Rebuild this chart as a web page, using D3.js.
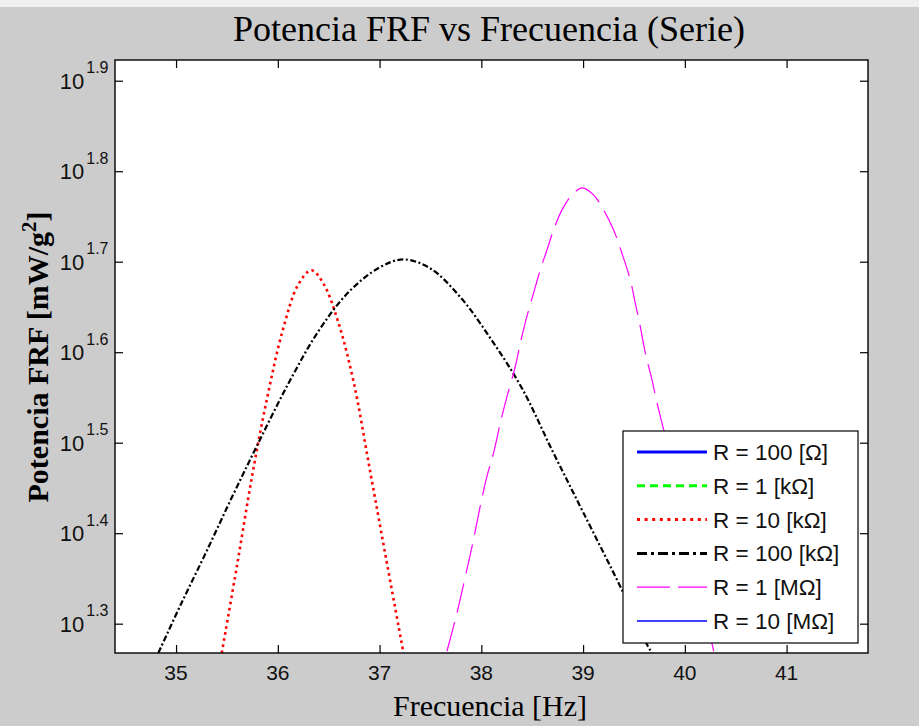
<!DOCTYPE html>
<html>
<head>
<meta charset="utf-8">
<script src="https://cdn.jsdelivr.net/npm/d3@7"></script>
<style>
  html, body { margin: 0; padding: 0; background: #cccccc; }
  svg { display: block; }
</style>
</head>
<body>
<svg id="chart" width="919" height="726"></svg>
<script>
// ---- Data: FRF power (mW/g^2) vs frequency (Hz) for each load resistance ----
const freq100Ohm = [];
const pot100Ohm = [];
const freq1k = [];
const pot1k = [];

const freq10k = [35.449, 35.600, 35.750, 35.900, 36.050, 36.200, 36.330, 36.450,
  36.600, 36.750, 36.900, 37.050, 37.235];
const pot10k = [18.52, 23.17, 29.17, 35.65, 42.17, 47.26, 49.04, 47.37,
  42.76, 36.69, 29.72, 24.02, 18.52];

const freq100k = [34.826, 35.050, 35.300, 35.550, 35.800, 36.100, 36.400, 36.700,
  37.000, 37.235, 37.500, 37.800, 38.100, 38.400, 38.700, 39.000, 39.380, 39.628, 39.677];
const pot100k = [18.52, 20.99, 23.99, 27.54, 31.45, 36.69, 42.01, 46.44,
  49.39, 50.41, 49.26, 45.71, 41.08, 36.31, 30.95, 26.50, 21.76, 18.92, 18.52];

const freq1M = [37.662, 37.760, 37.858, 37.923, 37.989, 38.055, 38.120, 38.186, 38.252, 38.334,
  38.383, 38.448, 38.513, 38.579, 38.645, 38.710, 38.793, 38.891, 38.992, 39.103, 39.201,
  39.300, 39.382, 39.464, 39.513, 39.562, 39.612, 39.677, 39.727, 39.792, 40.284];
const pot1M = [18.60, 20.50, 22.89, 24.71, 26.89, 29.02, 30.80, 33.23, 35.56, 38.39,
  40.74, 43.60, 46.26, 49.08, 51.64, 54.33, 57.18, 59.40, 60.47, 59.40, 57.18,
  54.33, 51.21, 47.86, 45.11, 42.49, 39.72, 37.12, 34.97, 32.68, 18.60];

const freq10M = [];
const pot10M = [];

const xTicks = [35, 36, 37, 38, 39, 40, 41];
const yTickExponents = ["1.3", "1.4", "1.5", "1.6", "1.7", "1.8", "1.9"];
const seriesNames = ["R = 100 [\u03A9]", "R = 1 [k\u03A9]", "R = 10 [k\u03A9]",
  "R = 100 [k\u03A9]", "R = 1 [M\u03A9]", "R = 10 [M\u03A9]"];

// ---- Series styling ----
const series = [
  { name: seriesNames[0], x: freq100Ohm, y: pot100Ohm, color: "#0000ff", width: 2.6, dash: null, legendDash: null },
  { name: seriesNames[1], x: freq1k, y: pot1k, color: "#00ff00", width: 2.6, dash: "8,5", legendDash: "8,5" },
  { name: seriesNames[2], x: freq10k, y: pot10k, color: "#ff0000", width: 2.6, dash: "2.6,3.6", legendDash: "3,4.6" },
  { name: seriesNames[3], x: freq100k, y: pot100k, color: "#000000", width: 2.2, dash: "6,2.5,2,2.5", legendDash: "10,4,3,4" },
  { name: seriesNames[4], x: freq1M, y: pot1M, color: "#ff00ff", width: 1.2, dash: "30,10", legendDash: "33,8" },
  { name: seriesNames[5], x: freq10M, y: pot10M, color: "#0000ff", width: 1.2, dash: null, legendDash: null }
];

// ---- Layout ----
const svg = d3.select("#chart");
const W = 919, H = 726;
const plot = { left: 115, top: 60, right: 868, bottom: 653 };

svg.append("rect").attr("x", 0).attr("y", 0).attr("width", W).attr("height", H).attr("fill", "#cccccc");
svg.append("rect").attr("x", 0).attr("y", 0).attr("width", W).attr("height", 7).attr("fill", "#efefef");

const x = d3.scaleLinear().domain([34.40, 41.80]).range([plot.left, plot.right]);
const y = d3.scaleLog().domain([Math.pow(10, 1.2676), Math.pow(10, 1.9229)]).range([plot.bottom, plot.top]);

// plot background
svg.append("rect")
  .attr("x", plot.left).attr("y", plot.top)
  .attr("width", plot.right - plot.left).attr("height", plot.bottom - plot.top)
  .attr("fill", "#ffffff");

svg.append("clipPath").attr("id", "plotClip")
  .append("rect")
  .attr("x", plot.left).attr("y", plot.top)
  .attr("width", plot.right - plot.left).attr("height", plot.bottom - plot.top);

// ---- Curves ----
const line = d3.line()
  .x(d => x(d[0]))
  .y(d => y(d[1]))
  .curve(d3.curveCatmullRom.alpha(0.5));

const curves = svg.append("g").attr("clip-path", "url(#plotClip)");
series.forEach(s => {
  const pts = s.x.map((f, i) => [f, s.y[i]]);
  if (!pts.length) return;
  curves.append("path")
    .attr("d", line(pts))
    .attr("fill", "none")
    .attr("stroke", s.color)
    .attr("stroke-width", s.width)
    .attr("stroke-dasharray", s.dash)
    .attr("stroke-linejoin", "round");
});

// ---- Axes (box with inward ticks on all four sides) ----
const tickLen = 8;
const yTickValues = yTickExponents.map(e => Math.pow(10, +e));

const axBottom = d3.axisBottom(x).tickValues(xTicks).tickSizeInner(-tickLen).tickSizeOuter(0).tickFormat("");
const axTop = d3.axisTop(x).tickValues(xTicks).tickSizeInner(-tickLen).tickSizeOuter(0).tickFormat("");
const axLeft = d3.axisLeft(y).tickValues(yTickValues).tickSizeInner(-tickLen).tickSizeOuter(0).tickFormat("");
const axRight = d3.axisRight(y).tickValues(yTickValues).tickSizeInner(-tickLen).tickSizeOuter(0).tickFormat("");

function styleAxis(g) {
  g.selectAll(".domain").remove();
  g.selectAll(".tick line").attr("stroke", "#000").attr("stroke-width", 1.2);
}
svg.append("g").attr("transform", `translate(0,${plot.bottom})`).call(axBottom).call(styleAxis);
svg.append("g").attr("transform", `translate(0,${plot.top})`).call(axTop).call(styleAxis);
svg.append("g").attr("transform", `translate(${plot.left},0)`).call(axLeft).call(styleAxis);
svg.append("g").attr("transform", `translate(${plot.right},0)`).call(axRight).call(styleAxis);

svg.append("rect")
  .attr("x", plot.left).attr("y", plot.top)
  .attr("width", plot.right - plot.left).attr("height", plot.bottom - plot.top)
  .attr("fill", "none").attr("stroke", "#000").attr("stroke-width", 1.4);

// x tick labels
svg.append("g").selectAll("text").data(xTicks).join("text")
  .attr("x", d => x(d))
  .attr("y", plot.bottom + 27)
  .attr("text-anchor", "middle")
  .attr("font-family", "Liberation Sans, Arial, sans-serif")
  .attr("font-size", 21)
  .attr("fill", "#111")
  .text(d => d);

// y tick labels: 10 with superscript exponent
const yLab = svg.append("g").selectAll("text").data(yTickExponents).join("text")
  .attr("x", plot.left - 6.5)
  .attr("y", d => y(Math.pow(10, +d)) + 8)
  .attr("text-anchor", "end")
  .attr("font-family", "Liberation Sans, Arial, sans-serif")
  .attr("fill", "#111");
yLab.append("tspan").attr("font-size", 22).text("10");
yLab.append("tspan").attr("font-size", 16).attr("dx", 2).attr("dy", -15.5).text(d => d);

// ---- Titles ----
svg.append("text")
  .attr("x", 489).attr("y", 41)
  .attr("text-anchor", "middle")
  .attr("font-family", "Liberation Serif, Times New Roman, serif")
  .attr("font-size", 36)
  .attr("fill", "#000")
  .text("Potencia FRF vs Frecuencia (Serie)");

svg.append("text")
  .attr("x", 490).attr("y", 716)
  .attr("text-anchor", "middle")
  .attr("font-family", "Liberation Serif, Times New Roman, serif")
  .attr("font-size", 30)
  .attr("fill", "#000")
  .text("Frecuencia [Hz]");

const yTitle = svg.append("text")
  .attr("transform", "translate(48,357) rotate(-90)")
  .attr("text-anchor", "middle")
  .attr("font-family", "Liberation Serif, Times New Roman, serif")
  .attr("font-weight", "bold")
  .attr("font-size", 30)
  .attr("fill", "#000");
yTitle.append("tspan").text("Potencia FRF [mW/g");
yTitle.append("tspan").attr("font-size", 21).attr("dy", -12).text("2");
yTitle.append("tspan").attr("dy", 12).text("]");

// ---- Legend ----
const legend = { left: 623, top: 431, right: 858, bottom: 643 };
svg.append("rect")
  .attr("x", legend.left).attr("y", legend.top)
  .attr("width", legend.right - legend.left).attr("height", legend.bottom - legend.top)
  .attr("fill", "#fff").attr("stroke", "#000").attr("stroke-width", 1.2);

const rowY = d3.scalePoint().domain(seriesNames).range([452, 621]);
const rows = svg.append("g").selectAll("g").data(series).join("g")
  .attr("transform", d => `translate(0,${rowY(d.name)})`);
rows.append("line")
  .attr("x1", 637).attr("x2", 707)
  .attr("y1", 0).attr("y2", 0)
  .attr("stroke", d => d.color)
  .attr("stroke-width", (d, i) => i < 4 ? 3 : 1.3)
  .attr("stroke-dasharray", d => d.legendDash);
rows.append("text")
  .attr("x", 713).attr("y", 8)
  .attr("font-family", "Liberation Sans, Arial, sans-serif")
  .attr("font-size", 22.5)
  .attr("fill", "#111")
  .text(d => d.name);
</script>
</body>
</html>
